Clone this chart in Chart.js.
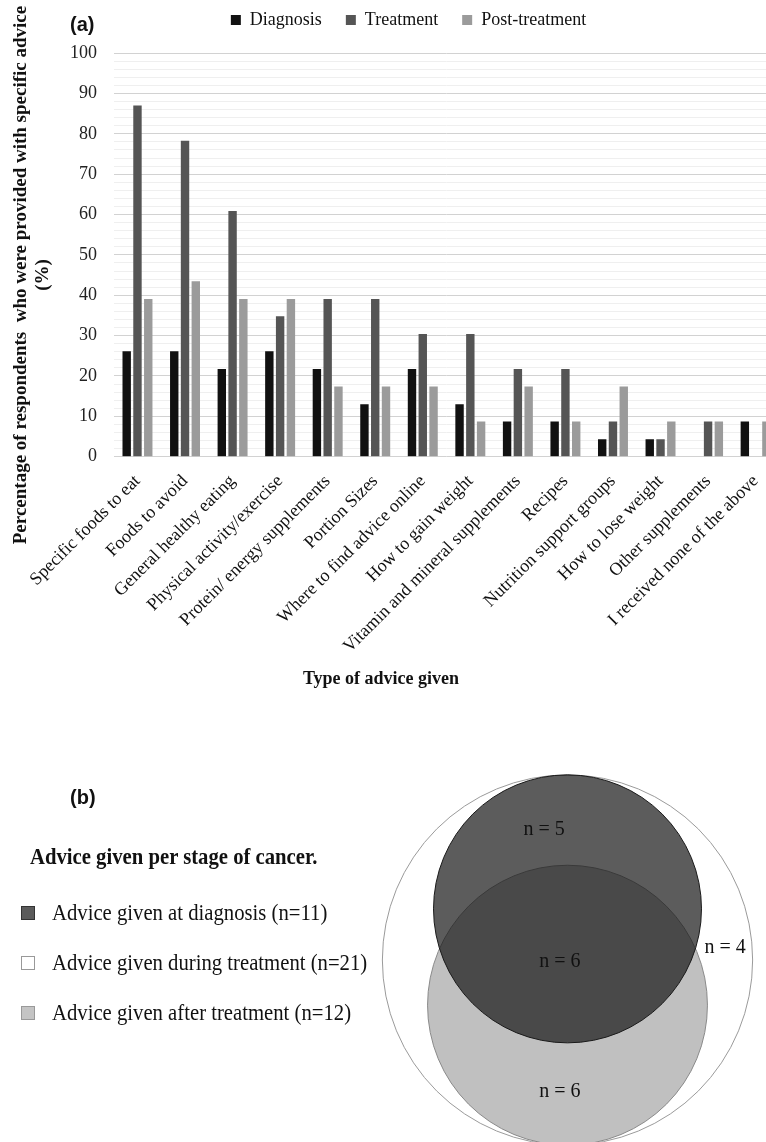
<!DOCTYPE html>
<html>
<head>
<meta charset="utf-8">
<script src="https://cdn.jsdelivr.net/npm/chart.js@4.4.1/dist/chart.umd.min.js"></script>
<style>
  body { margin: 0; background: #fff; }
  #page { position: relative; width: 766px; height: 1142px; overflow: hidden; font-family: 'Liberation Serif', serif; color: #111; }
  .abs { position: absolute; white-space: nowrap; }
  .panel { font: bold 20px/24px 'Liberation Sans', sans-serif; left: 70px; }
  .ytitle { left: -269px; top: 253px; width: 600px; height: 44px; font: bold 19px/22px 'Liberation Serif', serif; text-align: center; transform: rotate(-90deg); }
  .xtitle { left: 181px; top: 667px; width: 400px; font: bold 18px/22px 'Liberation Serif', serif; text-align: center; }
  .btitle { left: 30px; top: 843px; font: bold 23px/28px 'Liberation Serif', serif; transform: scaleX(0.9); transform-origin: left center; }
  .bitem { left: 52px; font: 23px/28px 'Liberation Serif', serif; transform: scaleX(0.9); transform-origin: left center; }
  .bbox { left: 21px; width: 12px; height: 12px; border: 1px solid #999; }
</style>
</head>
<body>
<div id="page">
  <canvas id="bars" class="abs" style="left:0;top:0" width="790" height="700"></canvas>
  <canvas id="venn" class="abs" style="left:0;top:700px" width="766" height="442"></canvas>
  <div class="abs panel" style="top:12px">(a)</div>
  <div class="abs ytitle">Percentage of respondents&nbsp; who were provided with specific advice<br>(%)</div>
  <div class="abs xtitle">Type of advice given</div>
  <div class="abs panel" style="top:785px">(b)</div>
  <div class="abs btitle">Advice given per stage of cancer.</div>
  <div id="vennLegend"></div>
</div>
<script>
// (a) share of respondents (%) given each type of advice, per stage
const categories = [
  'Specific foods to eat', 'Foods to avoid', 'General healthy eating',
  'Physical activity/exercise', 'Protein/ energy supplements', 'Portion Sizes',
  'Where to find advice online', 'How to gain weight', 'Vitamin and mineral supplements',
  'Recipes', 'Nutrition support groups', 'How to lose weight', 'Other supplements',
  'I received none of the above'
]
const diagnosis = [26.1, 26.1, 21.7, 26.1, 21.7, 13.0, 21.7, 13.0, 8.7, 8.7, 4.3, 4.3, 0, 8.7]
const treatment = [87.0, 78.3, 60.9, 34.8, 39.1, 39.1, 30.4, 30.4, 21.7, 21.7, 8.7, 4.3, 8.7, 0]
const postTreatment = [39.1, 43.5, 39.1, 39.1, 17.4, 17.4, 17.4, 8.7, 17.4, 8.7, 17.4, 8.7, 8.7, 8.7]
const yMax = 100
const yLabelStep = 10
const yGridStep = 2

// (b) venn: set sizes and region counts
const vennSets = ['Advice given at diagnosis', 'Advice given during treatment', 'Advice given after treatment']
const vennTotals = [11, 21, 12]
const regionCounts = [5, 6, 6, 4]

Chart.defaults.font.family = "'Liberation Serif', serif"

new Chart(document.getElementById('bars'), {
  type: 'bar',
  data: {
    labels: categories,
    datasets: [
      { label: 'Diagnosis', data: diagnosis, backgroundColor: '#111111' },
      { label: 'Treatment', data: treatment, backgroundColor: '#555555' },
      { label: 'Post-treatment', data: postTreatment, backgroundColor: '#9b9b9b' }
    ]
  },
  options: {
    responsive: false,
    animation: false,
    devicePixelRatio: 1,
    layout: { padding: { left: 37.6, right: 10.6, top: -13, bottom: 0 } },
    datasets: { bar: { categoryPercentage: 0.68, barPercentage: 0.78 } },
    plugins: {
      legend: {
        labels: { boxWidth: 10, boxHeight: 10, padding: 24, color: '#111', font: { size: 18 } }
      },
      tooltip: { enabled: false }
    },
    scales: {
      x: {
        grid: { display: false },
        border: { display: false },
        ticks: { color: '#111', font: { size: 18 }, minRotation: 45, maxRotation: 45, autoSkip: false, padding: 6 },
        afterFit: function (s) { s.height = 243.3 }
      },
      y: {
        min: 0,
        max: 103.5,
        border: { display: false },
        grid: {
          drawTicks: false,
          color: function (c) {
            const v = c.tick ? c.tick.value : 0
            if (v > yMax) return 'rgba(0,0,0,0)'
            return v % yLabelStep === 0 ? '#d2d2d2' : '#efefef'
          }
        },
        ticks: {
          stepSize: yGridStep,
          autoSkip: false,
          padding: 16.7,
          color: '#222',
          font: { size: 18 },
          callback: function (v) { return (v <= yMax && v % yLabelStep === 0) ? v : '' }
        },
        afterFit: function (s) { s.width = 76.1 }
      }
    }
  }
})

// venn: circle area proportional to set size; diagnosis and after-treatment
// circles sit inside the treatment circle, touching it at top and bottom
const PX = 40.4
const rad = vennTotals.map(n => Math.sqrt(n))
const centers = [rad[1] - rad[0], 0, -(rad[1] - rad[2])]
const regionSpots = [[-0.58, 3.22], [-0.19, -0.05], [-0.19, -3.27], [3.9, 0.3]]

const legendEl = document.getElementById('vennLegend')
const boxFill = ['#5b5b5b', '#ffffff', '#c4c4c4']
const boxLine = ['#333', '#999', '#999']
vennSets.forEach(function (name, i) {
  const cy = 913 + i * 50
  legendEl.insertAdjacentHTML('beforeend',
    `<div class="abs bbox" style="top:${cy - 7}px;background:${boxFill[i]};border-color:${boxLine[i]}"></div>` +
    `<div class="abs bitem" style="top:${cy - 14}px">${name} (n=${vennTotals[i]})</div>`)
})

const regionText = {
  id: 'regionText',
  afterDatasetsDraw (chart) {
    const meta = chart.getDatasetMeta(3)
    const ctx = chart.ctx
    ctx.save()
    ctx.font = "20px 'Liberation Serif'"
    ctx.fillStyle = '#111'
    ctx.textAlign = 'center'
    ctx.textBaseline = 'middle'
    meta.data.forEach(function (p, i) {
      ctx.fillText('n = ' + regionCounts[i], p.x, p.y)
    })
    ctx.restore()
  }
}

new Chart(document.getElementById('venn'), {
  type: 'bubble',
  data: {
    datasets: [
      { label: vennSets[0], order: 1, data: [{ x: 0, y: centers[0], r: rad[0] * PX }],
        backgroundColor: 'rgba(23,23,23,0.7)', borderColor: '#1a1a1a', borderWidth: 1 },
      { label: vennSets[1], order: 3, data: [{ x: 0, y: centers[1], r: rad[1] * PX }],
        backgroundColor: '#ffffff', borderColor: '#9a9a9a', borderWidth: 1 },
      { label: vennSets[2], order: 2, data: [{ x: 0, y: centers[2], r: rad[2] * PX }],
        backgroundColor: '#c0c0c0', borderColor: '#8a8a8a', borderWidth: 1 },
      { label: 'regions', order: 0, data: regionSpots.map(s => ({ x: s[0], y: s[1], r: 0 })),
        backgroundColor: 'rgba(0,0,0,0)', borderWidth: 0 }
    ]
  },
  options: {
    responsive: false,
    animation: false,
    devicePixelRatio: 1,
    layout: { padding: 0, autoPadding: false },
    plugins: { legend: { display: false }, tooltip: { enabled: false } },
    scales: {
      x: { display: false, min: -567.5 / PX, max: (766 - 567.5) / PX },
      y: { display: false, min: -(442 - 260) / PX, max: 260 / PX }
    }
  },
  plugins: [regionText]
})
</script>
</body>
</html>
